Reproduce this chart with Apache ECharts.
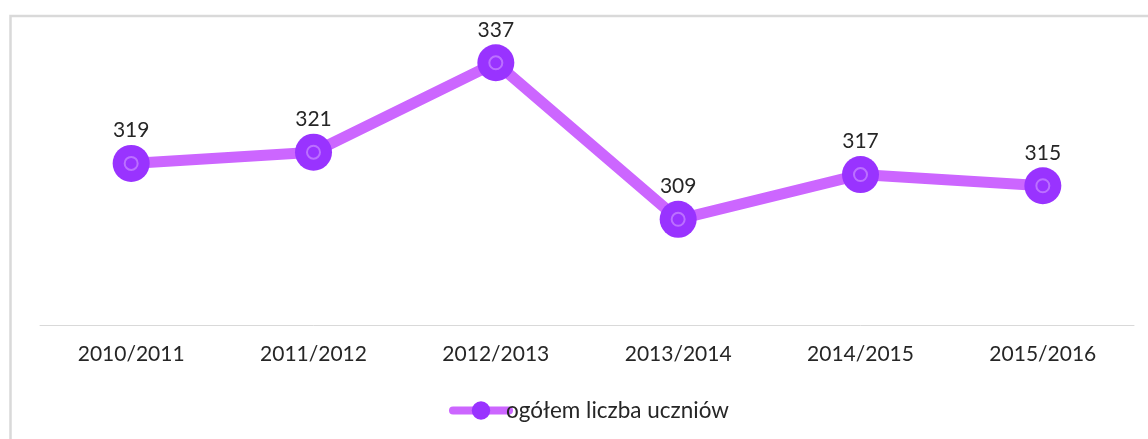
<!DOCTYPE html>
<html>
<head>
<meta charset="utf-8">
<script src="https://cdn.jsdelivr.net/npm/echarts@6/dist/echarts.min.js"></script>
<style>
html,body{margin:0;padding:0;background:#fff;}
#c{width:1148px;height:439px;}
</style>
</head>
<body>
<div id="c"></div>
<script>
var categories = ['2010/2011', '2011/2012', '2012/2013', '2013/2014', '2014/2015', '2015/2016'];
var values = [319, 321, 337, 309, 317, 315];
var seriesName = 'ogółem liczba uczniów';

var FONT = 'Lato';
var chart = echarts.init(document.getElementById('c'), null, {renderer: 'canvas'});
chart.setOption({
  animation: false,
  backgroundColor: '#ffffff',
  graphic: [{
    type: 'rect',
    shape: {x: 10.5, y: 16, width: 1400, height: 600},
    style: {fill: 'none', stroke: '#d9d9d9', lineWidth: 2.5},
    silent: true, z: -1
  }],
  grid: {left: 40, right: 14, top: 46, bottom: 113.5},
  legend: {
    data: [seriesName],
    bottom: 12,
    left: 444,
    itemWidth: 56,
    itemHeight: 23,
    itemGap: 4,
    lineStyle: {width: 8, cap: 'round', color: '#cc66ff'},
    textStyle: {fontFamily: FONT, fontSize: 22.5, color: '#262626', padding: [0,0,0,-8]}
  },
  xAxis: {
    type: 'category',
    data: categories,
    boundaryGap: true,
    axisLine: {lineStyle: {color: '#d9d9d9', width: 1}},
    axisTick: {show: false},
    axisLabel: {fontFamily: FONT, fontSize: 21, color: '#262626', margin: 18}
  },
  yAxis: {
    type: 'value',
    min: 290, max: 340,
    show: false,
    splitLine: {show: false}
  },
  series: [{
    name: seriesName,
    type: 'line',
    data: values,
    symbol: 'circle',
    symbolSize: 37,
    lineStyle: {color: '#cc66ff', width: 11},
    itemStyle: {color: '#9933ff'},
    label: {show: true, position: 'top', distance: 4, fontFamily: FONT, fontSize: 21, color: '#262626'},
    z: 2
  }, {
    name: 'ring',
    type: 'scatter',
    data: values,
    symbol: 'circle',
    symbolSize: 13,
    itemStyle: {color: '#9933ff', borderColor: '#c480ff', borderWidth: 2},
    silent: true,
    z: 3
  }]
});
</script>
</body>
</html>
